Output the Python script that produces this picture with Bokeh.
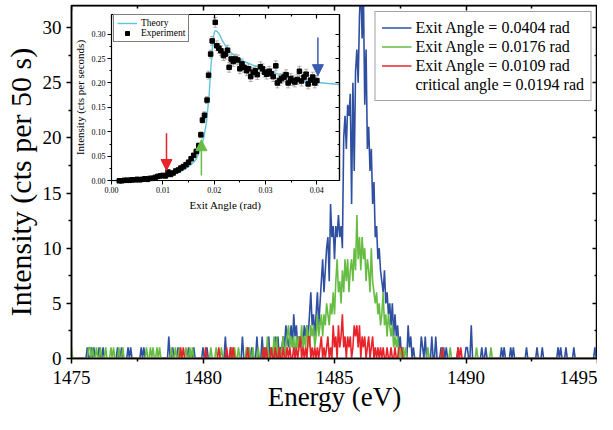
import numpy as np
from bokeh.plotting import figure
from bokeh.models import (Range1d, LinearAxis, FixedTicker, Legend, LegendItem,
                          Arrow, NormalHead, PrintfTickFormatter)
from bokeh.embed import file_html
from bokeh.resources import INLINE

# ---------------- data ----------------
E_START, E_STEP, N_CH = 1475.0, 0.05, 401   # energy channels (eV)
PEAK_START = 1483.0                         # first channel of the dense blocks

# counts per channel, 1483.00 ... 1487.45 eV
blue_peak = [1, 2, 1, 3, 2, 1, 2, 3, 1, 4, 2, 3, 1, 2, 1, 2, 1, 3, 2, 3,
             2, 4, 6, 3, 4, 2, 4, 6, 3, 5, 7, 9, 6, 8, 10, 11, 7, 14, 11, 12,
             9, 12, 11, 13, 11, 12, 10, 20, 22, 19, 23, 22, 24, 14, 25, 17, 26, 28, 25, 31,
             34, 29, 33, 23, 28, 19, 21, 17, 19, 14, 16, 11, 12, 9, 10, 8, 7, 6, 8, 5,
             6, 4, 5, 3, 5, 2, 4, 2, 3, 1]
green_peak = [1, 2, 0, 1, 2, 3, 1, 2, 1, 2, 0, 2, 1, 2, 1, 3, 1, 2, 1, 3,
              2, 1, 3, 2, 3, 1, 2, 4, 2, 3, 4, 2, 4, 3, 5, 4, 3, 5, 4, 6,
              4, 7, 9, 6, 7, 5, 8, 6, 9, 7, 9, 6, 8, 9, 7, 10, 8, 13, 9, 11,
              8, 11, 9, 10, 7, 9, 8, 6, 10, 7, 6, 5, 6, 4, 5, 3, 4, 6, 3, 4,
              2, 4, 3, 2, 3, 1, 2, 1, 2, 0]
red_peak = [0, 1, 0, 0, 1, 0, 1, 0, 0, 1, 0, 1, 0, 1, 2, 0, 1, 0, 1, 0,
            2, 2, 0, 1, 0, 1, 0, 1, 0, 1, 2, 0, 1, 0, 1, 2, 0, 1, 0, 3,
            1, 2, 0, 3, 1, 2, 4, 1, 2, 0, 2, 1, 2, 0, 1, 3, 2, 3, 1, 3,
            0, 2, 1, 2, 0, 1, 2, 0, 1, 2, 0, 1, 0, 1, 0, 1, 0, 1, 0, 0,
            1, 0, 0, 1, 0, 0, 1, 0, 0, 1]

# isolated counts outside the dense block: (energy eV, counts)
blue_spikes = [(1475.60, 1), (1475.75, 1), (1475.85, 1), (1476.05, 1), (1476.20, 1),
               (1476.75, 1), (1476.90, 1), (1477.15, 1), (1477.25, 1), (1477.65, 1),
               (1477.75, 1), (1478.70, 2), (1478.85, 1), (1479.05, 1), (1479.45, 1),
               (1479.65, 1), (1480.00, 1), (1480.15, 1), (1480.85, 2), (1481.05, 1),
               (1481.50, 2), (1481.70, 1), (1481.85, 1), (1482.05, 2), (1482.25, 2),
               (1482.35, 1), (1482.50, 2), (1482.60, 1), (1482.75, 2), (1482.85, 2),
               (1482.95, 1), (1487.50, 2), (1487.60, 1), (1487.80, 3), (1487.85, 1),
               (1487.90, 2), (1488.00, 1), (1488.30, 2), (1488.35, 1), (1488.45, 2),
               (1488.70, 2), (1488.85, 2), (1489.05, 1), (1489.15, 1), (1489.25, 1),
               (1489.70, 1), (1490.00, 1), (1490.05, 1), (1490.20, 3), (1490.60, 1),
               (1490.75, 1), (1491.35, 1), (1491.45, 1), (1491.70, 1), (1491.80, 1),
               (1492.30, 1), (1492.70, 1), (1492.90, 1), (1493.50, 1), (1493.60, 1),
               (1493.80, 1), (1494.10, 1), (1494.90, 1)]
green_spikes = [(1475.00, 1), (1475.65, 1), (1475.70, 1), (1475.80, 1), (1475.95, 1),
                (1476.10, 1), (1476.30, 1), (1476.50, 1), (1476.60, 1), (1476.80, 1),
                (1476.95, 1), (1477.85, 1), (1478.00, 1), (1478.10, 1), (1478.25, 1),
                (1478.35, 1), (1478.80, 1), (1478.95, 1), (1479.10, 1), (1479.35, 1),
                (1479.50, 1), (1479.60, 1), (1480.30, 1), (1480.50, 1), (1480.70, 1),
                (1481.10, 1), (1481.20, 1), (1481.35, 1), (1481.65, 1), (1481.75, 1),
                (1481.90, 1), (1482.10, 1), (1482.30, 1), (1482.45, 2), (1482.60, 1),
                (1482.70, 2), (1482.80, 2), (1482.90, 1), (1487.50, 1), (1487.60, 1),
                (1487.70, 1), (1488.55, 1), (1489.10, 1), (1489.40, 1), (1490.40, 1),
                (1490.95, 1)]
red_spikes = [(1479.15, 1), (1479.25, 1), (1480.10, 1), (1480.60, 1), (1480.90, 1),
              (1481.05, 1), (1481.15, 1), (1481.70, 1), (1482.30, 1), (1482.40, 1),
              (1482.60, 1), (1482.75, 1), (1482.90, 1), (1487.50, 1), (1487.55, 1),
              (1489.10, 1), (1489.70, 1), (1489.80, 1)]

series_labels = ["Exit Angle = 0.0404 rad", "Exit Angle = 0.0176 rad",
                 "Exit Angle = 0.0109 rad"]
critical_label = "critical angle = 0.0194 rad"
x_title = "Energy (eV)"
y_title = "Intensity (cts per 50 s)"

x_ticks = [1475, 1480, 1485, 1490, 1495]
x_minor = [1477.5, 1482.5, 1487.5, 1492.5]
y_ticks = [0, 5, 10, 15, 20, 25, 30]
y_minor = [2.5, 7.5, 12.5, 17.5, 22.5, 27.5]

# inset: intensity vs exit angle
theory_angle = [0.000, 0.002, 0.004, 0.006, 0.008, 0.010, 0.012, 0.013, 0.014, 0.015,
                0.016, 0.0165, 0.017, 0.0175, 0.018, 0.0185, 0.019, 0.0193, 0.0196, 0.0199,
                0.0201, 0.0203, 0.0206, 0.021, 0.0216, 0.0222, 0.0229, 0.0238, 0.0248, 0.026,
                0.0274, 0.029, 0.0306, 0.0325, 0.0345, 0.0365, 0.0383, 0.0402, 0.0422, 0.0445]
theory_value = [0.000, 0.001, 0.002, 0.003, 0.005, 0.008, 0.013, 0.017, 0.022, 0.029,
                0.038, 0.045, 0.056, 0.070, 0.090, 0.120, 0.175, 0.225, 0.265, 0.297,
                0.306, 0.307, 0.305, 0.300, 0.286, 0.276, 0.266, 0.257, 0.249, 0.243,
                0.237, 0.231, 0.225, 0.218, 0.211, 0.207, 0.204, 0.201, 0.199, 0.197]
exp_angle = [0.0015, 0.0020, 0.0025, 0.0030, 0.0035, 0.0040, 0.0045, 0.0050, 0.0055, 0.0060,
             0.0065, 0.0070, 0.0075, 0.0080, 0.0085, 0.0090, 0.0095, 0.0100, 0.0105, 0.0110,
             0.0115, 0.0120, 0.0125, 0.0130, 0.0135, 0.0140, 0.0145, 0.0150, 0.0155, 0.0160,
             0.0165, 0.0170, 0.0174, 0.0177, 0.0181, 0.0186, 0.0189, 0.0193, 0.0196, 0.0202,
             0.0205, 0.0209, 0.0213, 0.0218, 0.0222, 0.0226, 0.0229, 0.0233, 0.0237, 0.0241,
             0.0246, 0.0250, 0.0254, 0.0258, 0.0263, 0.0267, 0.0271, 0.0276, 0.0280, 0.0284,
             0.0290, 0.0294, 0.0298, 0.0302, 0.0307, 0.0311, 0.0315, 0.0320, 0.0323, 0.0327,
             0.0331, 0.0336, 0.0340, 0.0344, 0.0349, 0.0353, 0.0357, 0.0362, 0.0366, 0.0370,
             0.0375, 0.0379, 0.0383, 0.0388, 0.0392, 0.0396, 0.0400]
exp_value = [0.000, 0.000, 0.001, 0.001, 0.001, 0.002, 0.002, 0.003, 0.002, 0.003,
             0.004, 0.003, 0.005, 0.005, 0.007, 0.009, 0.010, 0.011, 0.010, 0.018,
             0.013, 0.016, 0.020, 0.022, 0.026, 0.029, 0.033, 0.038, 0.045, 0.052,
             0.060, 0.072, 0.094, 0.124, 0.134, 0.165, 0.216, 0.259, 0.286, 0.324,
             0.276, 0.271, 0.266, 0.256, 0.259, 0.267, 0.232, 0.249, 0.244, 0.249,
             0.247, 0.229, 0.239, 0.232, 0.225, 0.229, 0.213, 0.222, 0.225, 0.217,
             0.233, 0.229, 0.222, 0.218, 0.224, 0.219, 0.213, 0.235, 0.200, 0.205,
             0.209, 0.212, 0.217, 0.200, 0.209, 0.205, 0.202, 0.207, 0.224, 0.204,
             0.212, 0.218, 0.198, 0.206, 0.212, 0.200, 0.205]
exp_err = [0.001, 0.001, 0.001, 0.001, 0.001, 0.002, 0.002, 0.002, 0.002, 0.002,
           0.002, 0.002, 0.002, 0.002, 0.002, 0.002, 0.002, 0.002, 0.002, 0.003,
           0.003, 0.003, 0.003, 0.003, 0.003, 0.003, 0.004, 0.004, 0.004, 0.004,
           0.005, 0.005, 0.006, 0.006, 0.007, 0.007, 0.008, 0.008, 0.009, 0.010,
           0.010, 0.010, 0.010, 0.010, 0.010, 0.010, 0.010, 0.010, 0.010, 0.010,
           0.010, 0.010, 0.010, 0.010, 0.010, 0.010, 0.010, 0.010, 0.010, 0.010,
           0.010, 0.010, 0.010, 0.010, 0.010, 0.010, 0.010, 0.010, 0.010, 0.010,
           0.010, 0.010, 0.010, 0.010, 0.010, 0.010, 0.010, 0.010, 0.010, 0.010,
           0.010, 0.010, 0.010, 0.010, 0.010, 0.010, 0.010]
arrow_angle = [0.0107, 0.0175, 0.0402]
arrow_from = [0.097, 0.011, 0.293]
arrow_to = [0.021, 0.084, 0.215]

inset_x_ticks = [0.00, 0.01, 0.02, 0.03, 0.04]
inset_x_minor = [0.005, 0.015, 0.025, 0.035]
inset_y_ticks = [0.00, 0.05, 0.10, 0.15, 0.20, 0.25, 0.30]
inset_y_minor = [0.025, 0.075, 0.125, 0.175, 0.225, 0.275]
INSET_X = (0.0, 0.0445)
INSET_Y = (0.0, 0.34)

# ---------------- styling ----------------
FONT = "Liberation Serif"
BLUE, GREEN, RED, CYAN = "#2f4fa0", "#67bd43", "#e8242b", "#5ec6da"
ARROW_BLUE = "#3a5cb0"
FRAME_H = 353                      # frame height in px (414 - 5 - 56)


def build(peak, spikes):
    c = np.zeros(N_CH)
    for e, v in spikes:
        c[int(round((e - E_START) / E_STEP))] = v
    i0 = int(round((PEAK_START - E_START) / E_STEP))
    c[i0:i0 + len(peak)] = peak
    return c


energy = E_START + E_STEP * np.arange(N_CH)

p = figure(width=597, height=414, x_range=Range1d(1475, 1495), y_range=Range1d(0, 32),
           output_backend="svg", toolbar_location=None,
           min_border_left=68, min_border_right=0, min_border_top=5, min_border_bottom=56)
p.grid.visible = False
p.outline_line_color = "black"
p.outline_line_width = 1.5
p.background_fill_color = "white"
p.border_fill_color = "white"


def style_axis(ax, tick_font, title, title_font):
    ax.axis_line_width = 1.5
    ax.major_tick_line_width = 1.5
    ax.minor_tick_line_width = 1.5
    ax.major_tick_in, ax.major_tick_out = 0, 5
    ax.minor_tick_in, ax.minor_tick_out = 0, 3
    ax.major_label_text_font = FONT
    ax.major_label_text_font_size = tick_font
    ax.major_label_text_color = "black"
    ax.axis_label = title
    ax.axis_label_text_font = FONT
    ax.axis_label_text_font_style = "normal"
    ax.axis_label_text_font_size = title_font
    ax.axis_label_text_color = "black"


p.xaxis.ticker = FixedTicker(ticks=x_ticks, minor_ticks=x_minor)
p.yaxis.ticker = FixedTicker(ticks=y_ticks, minor_ticks=y_minor)
style_axis(p.xaxis[0], "19px", x_title, "27px")
style_axis(p.yaxis[0], "19px", y_title, "30px")
p.xaxis.major_label_standoff = 7
p.xaxis.axis_label_standoff = -5
p.yaxis.major_label_standoff = 5
p.yaxis.axis_label_standoff = 3


def mirror_ticks(side, loc, positions, length, width=1.5, xr="default", yr="default",
                 bounds="auto"):
    """Tick marks only (no labels): drawn as minor ticks of a label-less axis."""
    ax = LinearAxis(fixed_location=loc, x_range_name=xr, y_range_name=yr, bounds=bounds,
                    ticker=FixedTicker(ticks=[], minor_ticks=positions))
    ax.axis_line_width = width
    ax.minor_tick_line_width = width
    ax.minor_tick_in, ax.minor_tick_out = length, 0
    p.add_layout(ax, side)


# top and right of the main frame: inward ticks, no labels
mirror_ticks("above", p.y_range.end, x_ticks, 5)
mirror_ticks("above", p.y_range.end, x_minor, 3)
mirror_ticks("right", p.x_range.end, y_ticks, 5)
mirror_ticks("right", p.x_range.end, y_minor, 3)

# ---------------- main spectra ----------------
renderers = []
for peak, spikes, col in ((blue_peak, blue_spikes, BLUE),
                          (green_peak, green_spikes, GREEN),
                          (red_peak, red_spikes, RED)):
    r = p.line(energy, build(peak, spikes), line_color=col, line_width=1.6)
    renderers.append(r)
r_none = p.line(x=[], y=[], line_alpha=0)   # text-only legend row

legend = Legend(items=[LegendItem(label=lab, renderers=[r]) for lab, r in zip(series_labels, renderers)]
                + [LegendItem(label=critical_label, renderers=[r_none])],
                location="top_right", margin=6, padding=6, spacing=0,
                label_text_font=FONT, label_text_font_size="16px", label_text_color="black",
                label_height=19, glyph_height=19, glyph_width=30, label_standoff=4,
                border_line_color="#444444", border_line_width=1.5,
                background_fill_color="white", background_fill_alpha=1)
p.add_layout(legend)

# ---------------- inset (own ranges mapped into a box of the frame) ----------------
FX0, FX1 = 0.0762, 0.5104   # inset box, fraction of frame width
FY0, FY1 = 0.5034, 0.9745   # inset box, fraction of frame height (from bottom)
sx = (INSET_X[1] - INSET_X[0]) / (FX1 - FX0)
sy = (INSET_Y[1] - INSET_Y[0]) / (FY1 - FY0)
p.extra_x_ranges = {"ix": Range1d(INSET_X[0] - FX0 * sx, INSET_X[0] + (1 - FX0) * sx)}
p.extra_y_ranges = {"iy": Range1d(INSET_Y[0] - FY0 * sy, INSET_Y[0] + (1 - FY0) * sy)}


def inset_axis(side, loc, ticks, minor, bounds, label):
    ax = LinearAxis(x_range_name="ix", y_range_name="iy", fixed_location=loc,
                    ticker=FixedTicker(ticks=ticks, minor_ticks=minor), bounds=bounds,
                    formatter=PrintfTickFormatter(format="%.2f"))
    ax.axis_line_width = 1.2
    ax.major_tick_line_width = 1.0
    ax.minor_tick_line_width = 1.0
    ax.major_tick_in, ax.major_tick_out, ax.minor_tick_in, ax.minor_tick_out = 0, 4, 0, 2
    ax.major_label_text_font = FONT
    ax.major_label_text_font_size = "8px"
    ax.major_label_text_color = "black"
    ax.major_label_standoff = 2
    ax.axis_label = label
    ax.axis_label_text_font = FONT
    ax.axis_label_text_font_style = "normal"
    ax.axis_label_text_font_size = "11px"
    ax.axis_label_text_color = "black"
    ax.axis_label_standoff = 3
    p.add_layout(ax, side)


inset_axis("below", INSET_Y[0], inset_x_ticks, inset_x_minor, INSET_X, "Exit Angle (rad)")
inset_axis("left", INSET_X[0], inset_y_ticks, inset_y_minor, INSET_Y,
           "Intensity (cts per seconds)")
mirror_ticks("above", INSET_Y[1], inset_x_ticks, 4, 1.2, "ix", "iy", INSET_X)
mirror_ticks("above", INSET_Y[1], inset_x_minor, 2, 1.2, "ix", "iy", INSET_X)
mirror_ticks("right", INSET_X[1], inset_y_ticks, 4, 1.2, "ix", "iy", INSET_Y)
mirror_ticks("right", INSET_X[1], inset_y_minor, 2, 1.2, "ix", "iy", INSET_Y)

ev = np.array(exp_value)
er = np.array(exp_err)
p.segment(x0=exp_angle, y0=ev - er, x1=exp_angle, y1=ev + er, line_color="#9a9a9a",
          line_width=0.8, x_range_name="ix", y_range_name="iy")
p.scatter(x=exp_angle + exp_angle, y=list(ev - er) + list(ev + er), marker="dash", size=4,
          line_color="#9a9a9a", line_width=0.8, x_range_name="ix", y_range_name="iy")
r_th = p.line(theory_angle, theory_value, line_color=CYAN, line_width=1.4,
              x_range_name="ix", y_range_name="iy")
r_ex = p.scatter(exp_angle, exp_value, marker="square", size=4.5, color="black",
                 x_range_name="ix", y_range_name="iy")

for ang, y0, y1, col in zip(arrow_angle, arrow_from, arrow_to, (RED, GREEN, ARROW_BLUE)):
    p.add_layout(Arrow(x_start=ang, y_start=y0, x_end=ang, y_end=y1,
                       x_range_name="ix", y_range_name="iy", line_color=col, line_width=1.5,
                       end=NormalHead(size=11, fill_color=col, line_color=col)))

leg2 = Legend(items=[LegendItem(label="Theory", renderers=[r_th]),
                     LegendItem(label="Experiment", renderers=[r_ex])],
              location=(42, FRAME_H - 37), margin=0, padding=3, spacing=0,
              label_text_font=FONT, label_text_font_size="9.5px", label_text_color="black",
              label_height=10, glyph_height=10, glyph_width=20, label_standoff=4,
              border_line_color="black", border_line_width=1,
              background_fill_color="white", background_fill_alpha=1)
p.add_layout(leg2)

open("out.html", "w").write(file_html(p, INLINE))
